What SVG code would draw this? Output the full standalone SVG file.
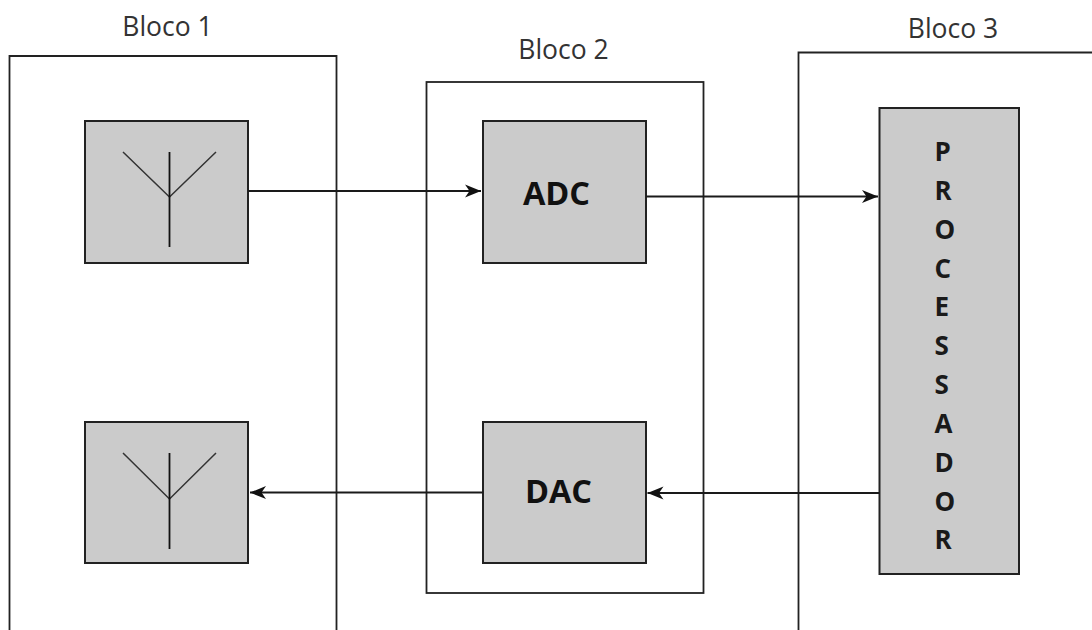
<svg xmlns="http://www.w3.org/2000/svg" width="1092" height="630" viewBox="0 0 1092 630">
  <defs>
    <marker id="arrow" markerUnits="userSpaceOnUse" markerWidth="20" markerHeight="16" refX="18" refY="8" orient="auto">
      <path d="M2,1.5 L18,8 L2,14.5 L6.5,8 Z" fill="#111"/>
    </marker>
  </defs>
  <style>
    .frame { fill: none; stroke: #222; stroke-width: 1.8; }
    .box { fill: #cbcbcb; stroke: #222; stroke-width: 2; }
    .ant { fill: none; stroke: #333; stroke-width: 1.5; }
    .mast { fill: none; stroke: #111; stroke-width: 1.8; }
    .conn { fill: none; stroke: #1a1a1a; stroke-width: 1.9; }
    .title { font-family: "Open Sans", "Liberation Sans", sans-serif; font-size: 26.5px; fill: #333; text-anchor: middle; }
    .big { font-family: "Open Sans", "Liberation Sans", sans-serif; font-size: 32.5px; font-weight: 700; fill: #111; text-anchor: middle; }
    .letter { font-family: "Open Sans", "Liberation Sans", sans-serif; font-size: 26px; font-weight: 700; fill: #1a1a1a; }
  </style>
  <rect width="1092" height="630" fill="#fff"/>
  <g id="bloco-1">
    <path class="frame" d="M9.5,630 V56 H336.5 V630"/>
    <text class="title" x="167.5" y="35.5">Bloco 1</text>
  </g>
  <g id="bloco-2">
    <rect class="frame" x="426.5" y="82" width="277" height="511"/>
    <text class="title" x="563.5" y="58.5">Bloco 2</text>
  </g>
  <g id="bloco-3">
    <path class="frame" d="M798.5,630 V52.5 H1092"/>
    <text class="title" x="953" y="37.5">Bloco 3</text>
  </g>
  <g id="antena-rx">
    <rect class="box" x="85" y="121" width="163" height="142"/>
    <path class="ant" d="M123,152 L169.5,197 L216,152"/>
    <path class="mast" d="M169.5,152 V247"/>
  </g>
  <g id="antena-tx">
    <rect class="box" x="85" y="422" width="163" height="141"/>
    <path class="ant" d="M123,453 L169.5,499 L216,453"/>
    <path class="mast" d="M169.5,453 V549"/>
  </g>
  <g id="adc">
    <rect class="box" x="483" y="121" width="163" height="142"/>
    <text class="big" x="556.5" y="205">ADC</text>
  </g>
  <g id="dac">
    <rect class="box" x="483" y="422" width="163" height="141"/>
    <text class="big" x="558.5" y="503">DAC</text>
  </g>
  <g id="processador">
    <rect class="box" x="879.5" y="108" width="139.5" height="466"/>
    <text class="letter" x="934.5" y="161">P</text>
    <text class="letter" x="934.5" y="200">R</text>
    <text class="letter" x="934.5" y="238.5">O</text>
    <text class="letter" x="934.5" y="277.5">C</text>
    <text class="letter" x="934.5" y="316">E</text>
    <text class="letter" x="934.5" y="355">S</text>
    <text class="letter" x="934.5" y="393.5">S</text>
    <text class="letter" x="934.5" y="433">A</text>
    <text class="letter" x="934.5" y="472">D</text>
    <text class="letter" x="934.5" y="510.5">O</text>
    <text class="letter" x="934.5" y="548.5">R</text>
  </g>
  <g id="connectors">
    <line class="conn" x1="248" y1="191" x2="481" y2="191" marker-end="url(#arrow)"/>
    <line class="conn" x1="646" y1="196.5" x2="878" y2="196.5" marker-end="url(#arrow)"/>
    <line class="conn" x1="879.5" y1="493" x2="647.5" y2="493" marker-end="url(#arrow)"/>
    <line class="conn" x1="483" y1="492.5" x2="250" y2="492.5" marker-end="url(#arrow)"/>
  </g>
</svg>
